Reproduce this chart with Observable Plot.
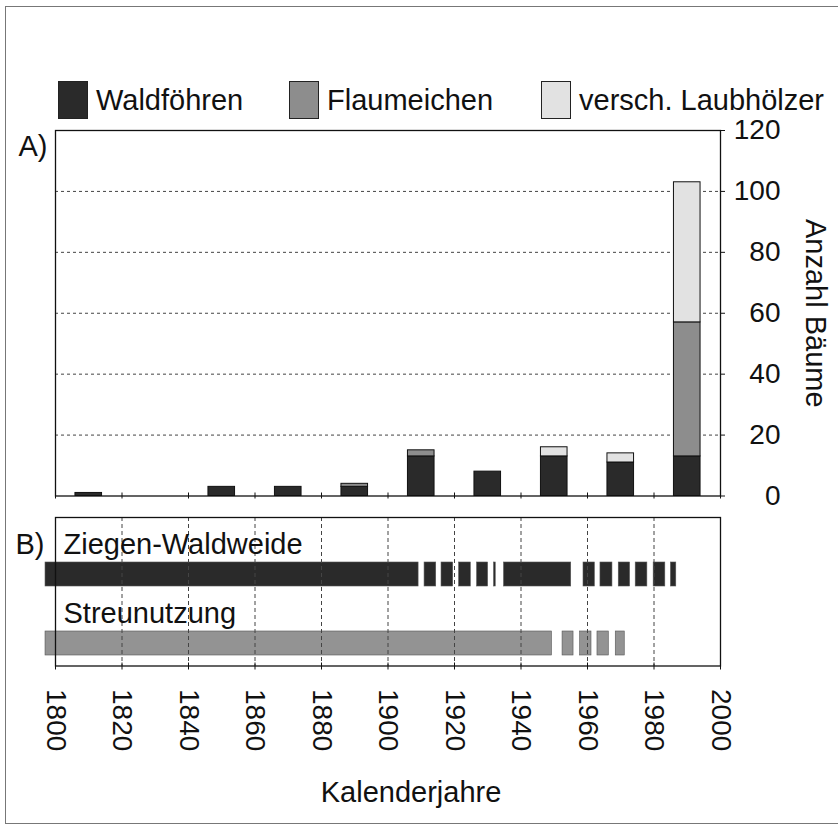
<!DOCTYPE html>
<html>
<head>
<meta charset="utf-8">
<script src="https://cdn.jsdelivr.net/npm/d3@7"></script>
<script src="https://cdn.jsdelivr.net/npm/@observablehq/plot@0.6"></script>
<style>
  html, body { margin: 0; padding: 0; background: #fff; }
  #wrap { position: relative; width: 838px; height: 827px; overflow: hidden; font-family: "Liberation Sans", Arial, sans-serif; color: #111; }
  #wrap svg { position: absolute; left: 0; top: 0; overflow: visible; }
  #outer { position: absolute; left: 5px; top: 6px; width: 900px; height: 818px; border: 1.5px solid #777; box-sizing: border-box; }
  #legend { position: absolute; top: 81px; left: 0; height: 38px; width: 838px; }
  .item { position: absolute; top: 0; height: 38px; display: flex; align-items: center; font-size: 29px; }
  .sw { width: 30px; height: 38px; box-sizing: border-box; border: 1.3px solid #222; margin-right: 8px; }
</style>
</head>
<body>
<div id="wrap"><div id="outer"></div><div id="legend"></div></div>
<script>
// ---- data ----
const decades      = [1810, 1830, 1850, 1870, 1890, 1910, 1930, 1950, 1970, 1990];
const waldfoehren  = [1, 0, 3, 3, 3, 13, 8, 13, 11, 13];
const flaumeichen  = [0, 0, 0, 0, 1, 2, 0, 0, 0, 44];
const laubhoelzer  = [0, 0, 0, 0, 0, 0, 0, 3, 3, 46];
const species      = ["Waldföhren", "Flaumeichen", "versch. Laubhölzer"];
const yTicks       = [0, 20, 40, 60, 80, 100, 120];
const xTicks       = [1800, 1820, 1840, 1860, 1880, 1900, 1920, 1940, 1960, 1980, 2000];
const usages       = ["Ziegen-Waldweide", "Streunutzung"];
const ziegenStart  = [1797, 1911.0, 1916.1, 1921.4, 1926.8, 1931.9, 1934.9, 1958.8, 1963.9, 1969.4, 1974.5, 1979.9, 1985.1];
const ziegenEnd    = [1909.2, 1914.5, 1919.6, 1924.9, 1930.1, 1932.4, 1955.1, 1962.2, 1967.5, 1972.8, 1978.0, 1983.4, 1986.7];
const streuStart   = [1797, 1952.5, 1957.8, 1963.0, 1968.5];
const streuEnd     = [1949.3, 1955.8, 1961.2, 1966.4, 1971.2];

// ---- styling ----
const speciesColors = ["#2a2a2a", "#8d8d8d", "#e2e2e2"];
const usageColors   = ["#2a2a2a", "#939393"];
const FONT = '"Liberation Sans", Arial, sans-serif';
const halfBar = 4;

// stacked rows
const series = [waldfoehren, flaumeichen, laubhoelzer];
const stacked = [];
decades.forEach((d, i) => {
  let base = 0;
  series.forEach((s, j) => {
    const v = s[i];
    if (v > 0) stacked.push({year: d, species: species[j], y1: base, y2: base + v});
    base += v;
  });
});

const segments = [];
ziegenStart.forEach((s, i) => segments.push({usage: usages[0], start: s, end: ziegenEnd[i]}));
streuStart.forEach((s, i) => segments.push({usage: usages[1], start: s, end: streuEnd[i]}));

const wrap = document.getElementById("wrap");

// legend
const legend = document.getElementById("legend");
const legendX = [58, 289, 541];
species.forEach((name, i) => {
  const it = document.createElement("div");
  it.className = "item";
  it.style.left = legendX[i] + "px";
  const sw = document.createElement("div");
  sw.className = "sw";
  sw.style.background = speciesColors[i];
  const tx = document.createElement("span");
  tx.textContent = name;
  it.appendChild(sw); it.appendChild(tx);
  legend.appendChild(it);
});

// Panel A
const plotA = Plot.plot({
  width: 838, height: 500,
  marginLeft: 55, marginRight: 118, marginTop: 130, marginBottom: 4.5,
  style: {fontFamily: FONT, fontSize: "28px", color: "#111", background: "transparent", overflow: "visible"},
  x: {domain: [1800, 2000]},
  y: {domain: [0, 120]},
  color: {domain: species, range: speciesColors},
  marks: [
    Plot.ruleY(yTicks.filter(v => v > 0 && v < 120), {stroke: "#444", strokeDasharray: "3,3", strokeWidth: 1}),
    Plot.rectY(stacked, {x1: d => d.year - halfBar, x2: d => d.year + halfBar, y1: "y1", y2: "y2", fill: "species", stroke: "#111", strokeWidth: 1}),
    Plot.frame({stroke: "#111", strokeWidth: 1.3}),
    Plot.axisX(xTicks, {tickSize: 6, dy: -3, tickFormat: () => "", label: null, stroke: "#111"}),
    Plot.axisY(yTicks, {anchor: "right", tickSize: 4, tickPadding: 56, textAnchor: "end", label: null, fontSize: 28}),
    Plot.text(["Anzahl Bäume"], {frameAnchor: "right", textAnchor: "middle", rotate: 90, dx: 95, fontSize: 29}),
    Plot.text(["A)"], {frameAnchor: "top-left", textAnchor: "start", dx: -37, dy: 5, fontSize: 29})
  ]
});

// Panel B
const plotB = Plot.plot({
  width: 838, height: 827,
  marginLeft: 55, marginRight: 118, marginTop: 517, marginBottom: 161.5,
  style: {fontFamily: FONT, fontSize: "28px", color: "#111", background: "transparent", overflow: "visible"},
  x: {domain: [1800, 2000]},
  y: {type: "band", domain: usages, range: [516.4, 700.3], padding: 0.654},
  color: {domain: usages, range: usageColors},
  marks: [
    Plot.rectX(segments, {x1: "start", x2: "end", y: "usage", fill: "usage", stroke: "#555", strokeWidth: 0.6}),
    Plot.ruleX(xTicks.filter(v => v > 1800 && v < 2000), {stroke: "#444", strokeDasharray: "4,3", strokeWidth: 1}),
    Plot.text(usages, {x: 1800, y: d => d, dx: 8, dy: -30, textAnchor: "start", fontSize: 29}),
    Plot.frame({stroke: "#111", strokeWidth: 1.3}),
    Plot.axisX(xTicks, {tickSize: 7, dy: -3, tickFormat: () => "", label: null}),
    Plot.axisX(xTicks, {tickSize: 0, tickRotate: 90, tickPadding: 23, tickFormat: "d", label: null, fontSize: 28}),
    Plot.axisY(usages, {tickSize: 0, tickFormat: () => "", label: null}),
    Plot.text(["Kalenderjahre"], {frameAnchor: "bottom", dx: 23, dy: 136, fontSize: 29}),
    Plot.text(["B)"], {frameAnchor: "top-left", textAnchor: "start", dx: -40, dy: 15.5, fontSize: 29})
  ]
});

wrap.appendChild(plotA);
wrap.appendChild(plotB);
</script>
</body>
</html>
